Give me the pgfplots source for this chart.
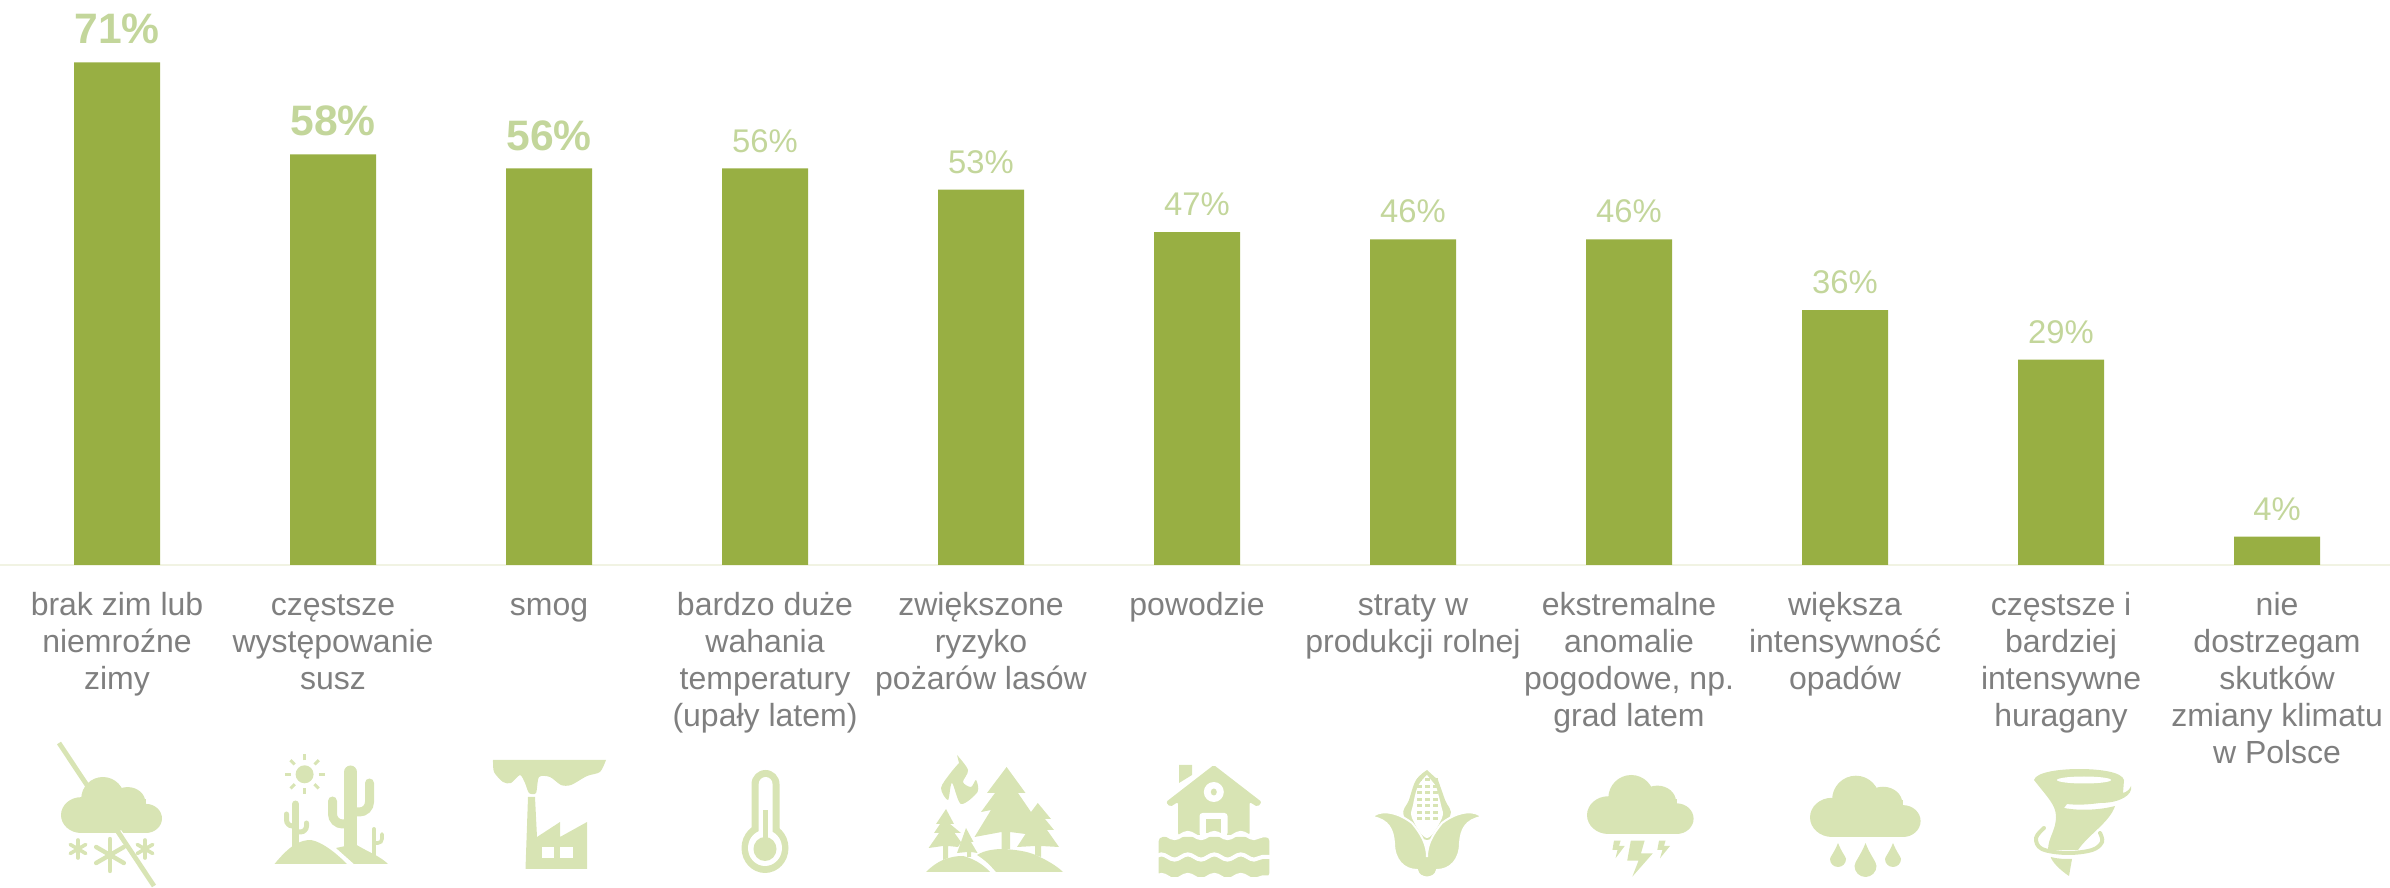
\documentclass[border=0pt]{standalone}
\usepackage{fontspec}
\setmainfont{Liberation Sans}
\usepackage{pgfplots}
\pgfplotsset{compat=1.18}
\usetikzlibrary{decorations.pathmorphing}
\definecolor{bargreen}{HTML}{98AF43}
\definecolor{lblgreen}{HTML}{C3D69B}
\definecolor{icongreen}{HTML}{D8E4B4}
\definecolor{txtgray}{HTML}{7F7F7F}
\definecolor{basegray}{HTML}{F1F3E3}
% unit cloud, y down, box 0..1
\newcommand{\cloud}[4]{\begin{scope}[shift={(#1,#2)},xscale=#3,yscale=#4]
  \fill (.2,.68) ellipse (.2 and .32);
  \fill (.415,.39) ellipse (.215 and .39);
  \fill (.66,.45) ellipse (.175 and .27);
  \fill (.84,.74) ellipse (.16 and .26);
  \fill (.2,.4) rectangle (.84,1);
\end{scope}}
\newcommand{\flake}[4]{\foreach \a in {90,30,150}{
  \draw[icongreen,line width=#4,line cap=round] (#1,#2) ++(\a:#3) -- ++(\a+180:2*#3);}}
\begin{document}
\begin{tikzpicture}
\path[use as bounding box] (0,-161.5pt) rectangle (1195pt,282.5pt);
\begin{axis}[
    scale only axis, width=1195pt, height=282.5pt,
    at={(0,0)}, anchor=south west,
    ybar, bar width=43pt, bar shift=0pt,
    clip=false,
    xmin=-0.5417, xmax=10.523, ymin=0, ymax=79.8,
    axis x line*=bottom, axis y line=none,
    x axis line style={-, draw=basegray, line width=0.75pt},
    xtick={0,...,10}, major tick length=0pt,
    xticklabels={{\strut brak zim lub\\niemroźne\\zimy},
      {\strut częstsze\\występowanie\\susz},
      {\strut smog},
      {\strut bardzo duże\\wahania\\temperatury\\(upały latem)},
      {\strut zwiększone\\ryzyko\\pożarów lasów},
      {\strut powodzie},
      {\strut straty w\\produkcji rolnej},
      {\strut ekstremalne\\anomalie\\pogodowe, np.\\grad latem},
      {\strut większa\\intensywność\\opadów},
      {\strut częstsze i\\bardziej\\intensywne\\huragany},
      {\strut nie\\dostrzegam\\skutków\\zmiany klimatu\\w Polsce}},
    x tick label style={font=\fontsize{16}{18.5}\selectfont, text=txtgray,
      align=center, anchor=north, yshift=-9pt},
    /pgf/number format/assume math mode=true,
    nodes near coords={\pgfmathprintnumber{\pgfplotspointmeta}\%},
]
\addplot[fill=bargreen, draw=none,
  every node near coord/.append style={font=\fontsize{21.3}{24}\selectfont\bfseries, text=lblgreen, yshift=5.5pt}]
  coordinates {(0,71) (1,58) (2,56)};
\addplot[fill=bargreen, draw=none,
  every node near coord/.append style={font=\fontsize{16.4}{20}\selectfont, text=lblgreen, yshift=4.5pt}]
  coordinates {(3,56) (4,53) (5,47) (6,46) (7,46) (8,36) (9,29) (10,4)};
\end{axis}
% icons below the labels, in reference pixels
\begin{scope}[shift={(0,282.5pt)},x=0.5pt,y=-0.5pt,fill=icongreen]
% no winter
\cloud{61}{777}{101}{56}
\draw[white,line width=5pt] (117,833) -- (154,886);
\draw[icongreen,line width=2.4pt] (59,743) -- (154,886);
\flake{110}{855}{16}{2.2pt}
\flake{78}{849}{9}{1.8pt}
\flake{145}{849}{9}{1.8pt}
% drought
\fill (304.6,774.3) circle (9);
\foreach \a in {0,45,...,315}{\draw[icongreen,line width=1.5pt] (304.6,774.3) ++(\a:14) -- ++(\a:6);}
\draw[icongreen,line width=6.5pt,line cap=round,rounded corners=4pt] (350.5,772) -- (350.5,845);
\draw[icongreen,line width=4.5pt,line cap=round,rounded corners=5pt] (369.5,783) -- (369.5,812) -- (355,812);
\draw[icongreen,line width=4.5pt,line cap=round,rounded corners=5pt] (332.5,801) -- (332.5,824) -- (348,824);
\draw[icongreen,line width=3.5pt,line cap=round] (295.5,804) -- (295.5,848);
\draw[icongreen,line width=2.5pt,line cap=round,rounded corners=3pt] (286.5,814) -- (286.5,826) -- (295,826);
\draw[icongreen,line width=2.5pt,line cap=round,rounded corners=3pt] (306.5,823) -- (306.5,832) -- (297,832);
\draw[icongreen,line width=2pt,line cap=round] (374,829) -- (374,857);
\draw[icongreen,line width=1.8pt,line cap=round,rounded corners=2pt] (382,834) -- (382,843) -- (375,843);
\fill (274.5,864) .. controls (290,845) and (300,840) .. (311,840) .. controls (322,842) and (335,852) .. (347,864) -- cycle;
\fill (336,848) -- (355,844) .. controls (368,852) and (380,856) .. (388,864) -- (354,864) -- cycle;
% factory
\fill plot[smooth,tension=.45] coordinates {(493,760) (494,772) (503,782) (511,783) (520,775) (525,783) (529,793) (536,793) (539,777) (550,777) (561,785) (571,785) (587,776) (600,772) (606,760)} -- cycle;
\fill (528,797) -- (535,797) -- (537,837) -- (560,822) -- (560,837) -- (587,822) -- (587,869) -- (525.5,869) -- cycle;
\fill[white] (542,847) rectangle (554,858);
\fill[white] (560,847) rectangle (573,858);
% thermometer
\fill (765,848) ellipse (23.5 and 25);
\fill (751.5,835) -- (751.5,784) arc (180:360:14 and 14) -- (779.5,835) -- cycle;
\fill[white] (765,848) ellipse (17 and 18);
\fill[white] (758.7,838) -- (758.7,784) arc (180:360:6.9 and 7) -- (772.5,838) -- cycle;
\fill (765,849) ellipse (11.5 and 12);
\fill (763,810) rectangle (768,840);
% forest fire
\fill plot[smooth,tension=.5] coordinates {(957,755) (968,770) (963,782) (971,787) (976,780) (977.5,792) (961,804) (952,783) (948,800) (941,788) (950.5,773) (959,763)} -- cycle;
\fill (1006.6,767) -- (1025.5,793) -- (1018,793) -- (1031,812) -- (1037.8,803) -- (1051,819) -- (1045,819) -- (1054,830) -- (1047,830) -- (1059,847) -- (1041,846) -- (1041,857) -- (1035,855) -- (1035,846) -- (1017,847) -- (1025.5,834) -- (1010,832) -- (1010,849) -- (1001.5,849) -- (1001.5,832) -- (974.5,837) -- (991,810) -- (981,812) -- (995,793) -- (987,793) -- cycle;
\fill (977,855) .. controls (985,850) and (995,849) .. (1004,849) .. controls (1020,850) and (1030,852) .. (1040,857) .. controls (1050,862) and (1058,867) .. (1063,872) -- (996,872) .. controls (990,865) and (985,860) .. (977,855) -- cycle;
\fill (926,872) .. controls (932,866) and (938,862) .. (943,860) .. controls (950,857) and (956,856) .. (963,856) .. controls (972,858) and (983,864) .. (990,872) -- cycle;
\fill (946,809) -- (954,824) -- (950,824) -- (961,833) -- (954.6,833) -- (961,842) -- (957,853) -- (967,852) -- (967,857) -- (971,857) -- (971,852) -- (977.5,853) -- (971,842) -- (973.5,842) -- (966,828) -- (961,842) -- (958,847) -- (948,846) -- (948,858) -- (943,860) -- (943,846) -- (928.6,848) -- (939,833) -- (934,833) -- (940,824) -- (936,824) -- cycle;
% flooded house
\fill[rounded corners=1pt] (1213.8,765) -- (1261.7,802) -- (1257.7,807) -- (1249.5,802) -- (1249.5,835) -- (1178,835) -- (1178,802) -- (1170,807) -- (1166,802) -- cycle;
\fill (1179,765) -- (1192,765) -- (1192,775) -- (1179,783) -- cycle;
\fill[white] (1213.8,792) ellipse (10 and 10);
\fill (1213.8,792) ellipse (3 and 3.5);
\fill[white,rounded corners=1.5pt] (1199.5,813) rectangle (1227.5,836);
\fill (1206,819) rectangle (1221,833);
\fill[rounded corners=2pt] (1158.7,837) rectangle (1269.4,877);
\foreach \yy in {835.5,857,877.5}{
  \draw[white,line width=2pt,decorate,decoration={snake,amplitude=1.3pt,segment length=13.25pt}] (1153,\yy) -- (1275,\yy);}
% corn
\fill plot[smooth,tension=.6] coordinates {(1427,770) (1416,780) (1409,800) (1404,816) (1427,840) (1450,816) (1445,800) (1438,780)} -- cycle;
\fill[white] plot[smooth,tension=.6] coordinates {(1427,775) (1418,786) (1413,805) (1412,818) (1427,838) (1442,818) (1441,805) (1436,786)} -- cycle;
\foreach \yy in {780,786.5,...,820}{\foreach \xx in {1419,1427,1435}{
  \fill (\xx-2.5,\yy-1.5) rectangle (\xx+2.5,\yy+1.5);}}
\fill[draw=white,line width=1pt] (1372.4,817) .. controls (1378,810) and (1395,810) .. (1412,823) .. controls (1422,835) and (1427,845) .. (1427,857) .. controls (1427,845) and (1432,835) .. (1442,823) .. controls (1459,810) and (1476,810) .. (1481.6,817) .. controls (1465,820) and (1461,830) .. (1460,843) .. controls (1460,860) and (1450,870) .. (1437,870) .. controls (1435,880) and (1419,880) .. (1417,870) .. controls (1404,870) and (1394,860) .. (1394,843) .. controls (1393,830) and (1389,820) .. (1372.4,817) -- cycle;
% thunderstorm
\cloud{1587}{775}{106.6}{59}
\fill (1630.8,840.7) -- (1644.6,840.7) -- (1641,853.3) -- (1652.8,853.3) -- (1632.3,876.7) -- (1638.5,860.7) -- (1627.2,860.7) -- cycle;
\fill (1614,840.7) -- (1620.6,840.7) -- (1619,846) -- (1624.7,846) -- (1615.5,858.3) -- (1617.5,850) -- (1612.4,850) -- cycle;
\fill (1659,840.7) -- (1665.5,840.7) -- (1664,846) -- (1670,846) -- (1660,858.3) -- (1662.4,850) -- (1657.3,850) -- cycle;
% rain
\cloud{1810}{775.7}{110.6}{61.3}
\fill (1838,843) .. controls (1842,853) and (1846,857) .. (1846,859) arc (0:180:8) .. controls (1830,857) and (1834,853) .. (1838,843) -- cycle;
\fill (1865.5,843) .. controls (1870,855) and (1876.5,862) .. (1876.5,866) arc (0:180:11) .. controls (1854.5,862) and (1861,855) .. (1865.5,843) -- cycle;
\fill (1893,843) .. controls (1897,853) and (1901,857) .. (1901,859) arc (0:180:8) .. controls (1885,857) and (1889,853) .. (1893,843) -- cycle;
% tornado
\fill (2034,780) .. controls (2036,772) and (2060,769) .. (2079,769) .. controls (2100,769) and (2122,772) .. (2124,780) -- (2123,793) .. controls (2127,792) and (2130,789) .. (2131,786) .. controls (2133,795) and (2120,803) .. (2100,803) .. controls (2085,805) and (2075,805) .. (2067,804) -- (2064,808) .. controls (2080,811) and (2100,810) .. (2115,806) .. controls (2110,822) and (2088,835) .. (2078,850) -- (2048,850) .. controls (2048,838) and (2056,830) .. (2056,817) .. controls (2056,805) and (2048,798) .. (2034,780) -- cycle;
\fill[white] (2084,780) ellipse (27 and 3.5);
\draw[icongreen,line width=2pt,line cap=round] plot[smooth,tension=.6] coordinates {(2044,828) (2036,838) (2042,849) (2067,853) (2092,850) (2102,842) (2100,833)};
\fill (2050.7,857) .. controls (2058,859) and (2065,859) .. (2072,859) -- (2069,876) .. controls (2060,870) and (2052,862) .. (2050.7,857) -- cycle;
\end{scope}
\end{tikzpicture}
\end{document}
